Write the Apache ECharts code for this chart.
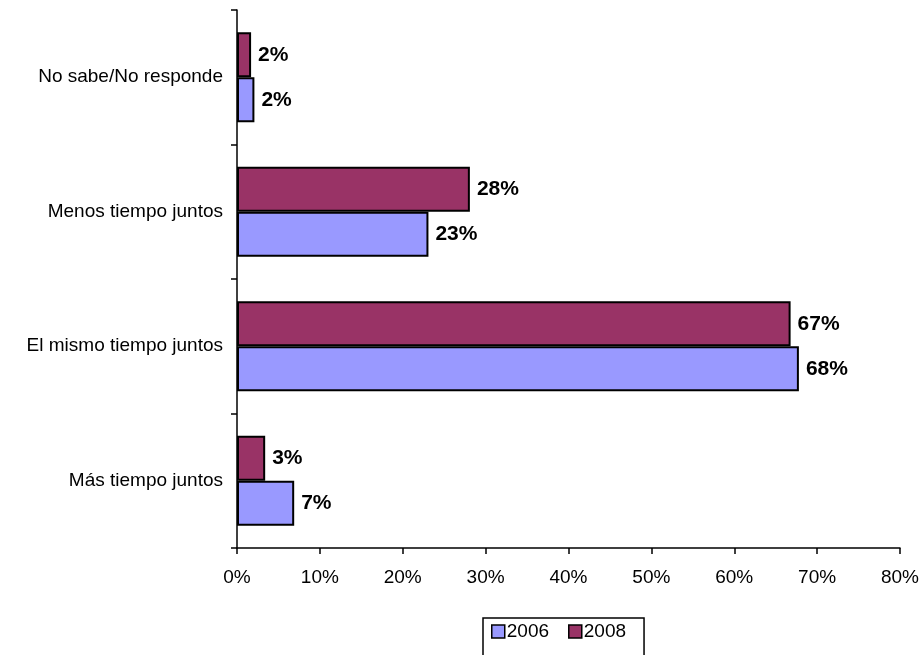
<!DOCTYPE html>
<html>
<head>
<meta charset="utf-8">
<script src="https://cdn.jsdelivr.net/npm/echarts@6/dist/echarts.min.js"></script>
<style>
  html, body { margin: 0; padding: 0; background: #fff; }
  #chart { width: 919px; height: 655px; }
</style>
</head>
<body>
<div id="chart"></div>
<script>
const categories = ['Más tiempo juntos', 'El mismo tiempo juntos', 'Menos tiempo juntos', 'No sabe/No responde']
const values2006 = [6.9, 67.8, 23.1, 2.1]
const values2008 = [3.4, 66.8, 28.1, 1.7]
const xTicks = [0, 10, 20, 30, 40, 50, 60, 70, 80]

const chart = echarts.init(document.getElementById('chart'))

const barLabel = {
  show: true,
  position: 'right',
  distance: 7,
  fontFamily: 'Liberation Sans',
  fontWeight: 'bold',
  fontSize: 21,
  color: '#000',
  formatter: p => Math.round(p.value) + '%'
}

const option = {
  animation: false,
  textStyle: { fontFamily: 'Liberation Sans' },
  grid: {
    left: 237,
    right: 19,
    top: 10,
    bottom: 107,
    containLabel: false,
    outerBoundsMode: 'none'
  },
  legend: {
    data: ['2006', '2008'],
    left: 483,
    top: 618,
    itemWidth: 13,
    itemHeight: 13,
    itemGap: 19,
    icon: 'rect',
    borderColor: '#000',
    borderWidth: 1.5,
    padding: [4, 18, 30, 8],
    textStyle: { fontFamily: 'Liberation Sans', fontSize: 19, color: '#000', padding: [0, 0, 0, -3] },
    itemStyle: { borderColor: '#000', borderWidth: 1.5 }
  },
  xAxis: {
    type: 'value',
    min: xTicks[0],
    max: xTicks[xTicks.length - 1],
    interval: 10,
    splitLine: { show: false },
    axisLine: { show: true, lineStyle: { color: '#000', width: 1.5 } },
    axisTick: { show: true, length: 6, lineStyle: { color: '#000', width: 1.5 } },
    axisLabel: {
      fontFamily: 'Liberation Sans',
      fontSize: 19,
      color: '#000',
      margin: 20,
      formatter: '{value}%'
    }
  },
  yAxis: {
    type: 'category',
    data: categories,
    axisLine: { show: true, lineStyle: { color: '#000', width: 1.5 } },
    axisTick: { show: true, length: 6, lineStyle: { color: '#000', width: 1.5 } },
    axisLabel: {
      fontFamily: 'Liberation Sans',
      fontSize: 19,
      color: '#000',
      margin: 14
    }
  },
  series: [
    {
      name: '2008',
      type: 'bar',
      data: values2008,
      barGap: '0%',
      barCategoryGap: '33%',
      itemStyle: { color: '#993366', borderColor: '#000', borderWidth: 2 },
      label: barLabel
    },
    {
      name: '2006',
      type: 'bar',
      data: values2006,
      itemStyle: { color: '#9999FF', borderColor: '#000', borderWidth: 2 },
      label: barLabel
    }
  ]
}

chart.setOption(option)
</script>
</body>
</html>
